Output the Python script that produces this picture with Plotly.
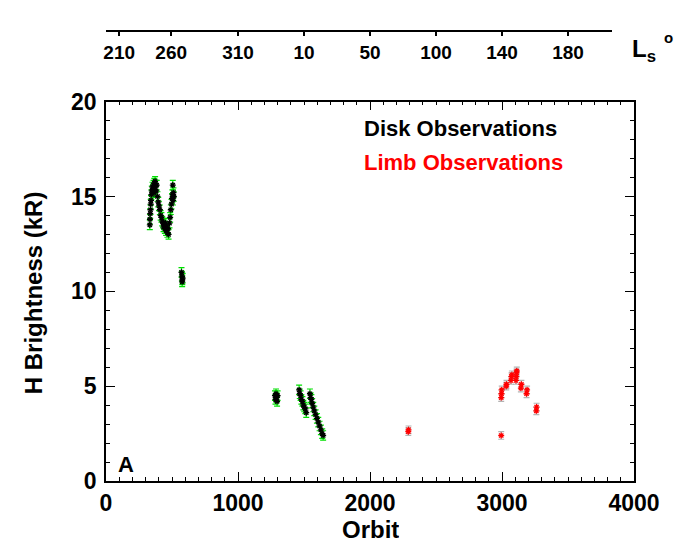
import plotly.graph_objects as go

# ---- data ----
disk_orbit = [332, 333, 335, 337, 339, 341, 344, 347, 352, 356, 360, 364, 366, 370, 372, 376, 380, 384,
              390, 396, 402, 408, 414, 420, 426, 432, 436, 440, 446, 450, 455, 460, 465, 470, 474,
              481, 486, 491, 496, 500, 504, 508, 511, 514, 506,
              572, 575, 578, 581, 577,
              1280, 1284, 1288, 1292, 1296, 1300,
              1463, 1468, 1474, 1480, 1488, 1495, 1502, 1510, 1517,
              1545, 1550, 1556, 1562, 1570, 1578, 1588, 1598, 1608, 1618, 1628, 1638, 1645]
disk_h = [13.5, 13.8, 14.1, 14.3, 14.6, 14.8, 15.1, 15.3, 15.5, 15.4, 15.6, 15.2, 15.7, 15.5, 15.8, 15.6, 15.3, 15.6,
          15.0, 14.7, 14.5, 14.3, 14.0, 13.9, 13.7, 13.6, 13.4, 13.5, 13.3, 13.6, 13.2, 13.4, 13.1, 13.3, 13.0,
          13.6, 13.9, 14.3, 14.6, 14.9, 15.1, 14.8, 15.2, 15.0, 15.6,
          11.0, 10.8, 10.6, 10.7, 10.5,
          4.5, 4.3, 4.6, 4.4, 4.2, 4.5,
          4.8, 4.6, 4.5, 4.3, 4.2, 4.0, 3.9, 3.8, 3.6,
          4.6, 4.4, 4.3, 4.1, 3.9, 3.7, 3.5, 3.3, 3.1, 2.9, 2.7, 2.5, 2.4]
disk_err = [0.25] * len(disk_h)

limb_orbit = [2290, 2292, 2994, 2996, 2998, 2994, 3032, 3034, 3068, 3072, 3075,
              3106, 3108, 3110, 3112, 3143, 3147, 3186, 3190, 3260, 3262]
limb_h = [2.6, 2.7, 4.4, 4.6, 4.8, 2.4, 5.0, 5.1, 5.3, 5.5, 5.6,
          5.3, 5.5, 5.7, 5.8, 4.9, 5.1, 4.6, 4.8, 3.7, 3.9]
limb_err = [0.2] * len(limb_h)

ls_tick_orbit = [100, 494, 1000, 1500, 2000, 2500, 3000, 3500]
ls_tick_text = ["210", "260", "310", "10", "50", "100", "140", "180"]
ls_line_end = 3830

FONT = "Liberation Sans, Arial, Helvetica, sans-serif"

W, H = 684, 542
L, R, T, B = 106, 50, 5, 61
plot_w = W - L - R
plot_h = H - T - B


def fy(py):
    return (H - B - py) / plot_h


def fx(px):
    return (px - L) / plot_w


fig = go.Figure()

fig.add_trace(go.Scatter(
    x=disk_orbit, y=disk_h, mode="markers",
    marker=dict(symbol="asterisk-open", size=5, color="black", line=dict(color="black", width=1.3)),
    error_y=dict(type="data", array=disk_err, color="#00e000", thickness=1.2, width=3),
    showlegend=False))

fig.add_trace(go.Scatter(
    x=limb_orbit, y=limb_h, mode="markers",
    marker=dict(symbol="asterisk-open", size=5, color="red", line=dict(color="red", width=1.3)),
    error_y=dict(type="data", array=limb_err, color="#b4b4b4", thickness=1.2, width=3),
    showlegend=False))

# trace that carries the Ls (solar longitude) axis on top
fig.add_trace(go.Scatter(x=ls_tick_orbit, y=[None] * len(ls_tick_orbit), xaxis="x2", yaxis="y3",
                         mode="markers", showlegend=False, hoverinfo="skip"))

tick_font = dict(family=FONT, size=23, color="black", weight="bold")

fig.update_layout(
    width=W, height=H,
    margin=dict(l=L, r=R, t=T, b=B),
    paper_bgcolor="white", plot_bgcolor="rgba(0,0,0,0)",
    font=dict(family=FONT, color="black"),
    xaxis=dict(range=[0, 4000], tickvals=[0, 1000, 2000, 3000, 4000], domain=[0, 1], anchor="y",
               ticks="inside", ticklen=9, tickwidth=1.3, tickcolor="black",
               minor=dict(dtick=100, ticks="inside", ticklen=4, tickwidth=1, tickcolor="black"),
               showline=True, linecolor="black", linewidth=1.5, mirror="ticks",
               showgrid=False, zeroline=False, tickfont=tick_font, ticklabelstandoff=1),
    yaxis=dict(range=[0, 20], tickvals=[0, 5, 10, 15, 20], domain=[0, fy(91)], anchor="x",
               ticks="inside", ticklen=9, tickwidth=1.3, tickcolor="black",
               minor=dict(dtick=1, ticks="inside", ticklen=4, tickwidth=1, tickcolor="black"),
               showline=True, linecolor="black", linewidth=1.5, mirror="ticks",
               showgrid=False, zeroline=False, tickfont=tick_font, ticklabelstandoff=3),
    xaxis2=dict(range=[0, ls_line_end], domain=[0, ls_line_end / 4000], anchor="y3", side="bottom",
                tickvals=ls_tick_orbit, ticktext=ls_tick_text,
                ticks="outside", ticklen=4, tickwidth=1.5, tickcolor="black",
                showline=True, linecolor="black", linewidth=2.2,
                showgrid=False, zeroline=False,
                tickfont=dict(family=FONT, size=19, color="black", weight="bold")),
    yaxis3=dict(domain=[fy(17), 1], anchor="x2", visible=False, range=[0, 1]),
)

# axis titles
fig.add_annotation(xref="paper", yref="paper", x=fx(370), y=fy(530), height=22,
                   text="<b>Orbit</b>", showarrow=False, xanchor="center", yanchor="middle",
                   font=dict(family=FONT, size=24, color="black"))
fig.add_annotation(xref="paper", yref="paper", x=fx(33), y=fy(288), textangle=-90,
                   text="<b>H Brightness (kR)</b>", showarrow=False, xanchor="center", yanchor="middle",
                   font=dict(family=FONT, size=24, color="black"))

# legend texts and panel label
fig.add_annotation(xref="paper", yref="paper", x=fx(362), y=fy(119),
                   text="<b>Disk Observations</b>", showarrow=False, xanchor="left", yanchor="middle",
                   font=dict(family=FONT, size=22, color="black"))
fig.add_annotation(xref="paper", yref="paper", x=fx(362), y=fy(154),
                   text="<b>Limb Observations</b>", showarrow=False, xanchor="left", yanchor="middle",
                   font=dict(family=FONT, size=22, color="red"))
fig.add_annotation(xref="paper", yref="paper", x=fx(116), y=fy(464),
                   text="<b>A</b>", showarrow=False, xanchor="left", yanchor="middle",
                   font=dict(family=FONT, size=22, color="black"))

# Ls axis label
fig.add_annotation(xref="paper", yref="paper", x=fx(630), y=fy(38),
                   text="<b>L<sub>s</sub></b>", showarrow=False, xanchor="left", yanchor="middle",
                   font=dict(family=FONT, size=24, color="black"))
fig.add_annotation(xref="paper", yref="paper", x=fx(668), y=fy(25),
                   text="<b>o</b>", showarrow=False, xanchor="center", yanchor="middle",
                   font=dict(family=FONT, size=15, color="black"))

fig.write_html("out.html", config={"displayModeBar": False},
               post_script="document.body.style.margin='0px';")
